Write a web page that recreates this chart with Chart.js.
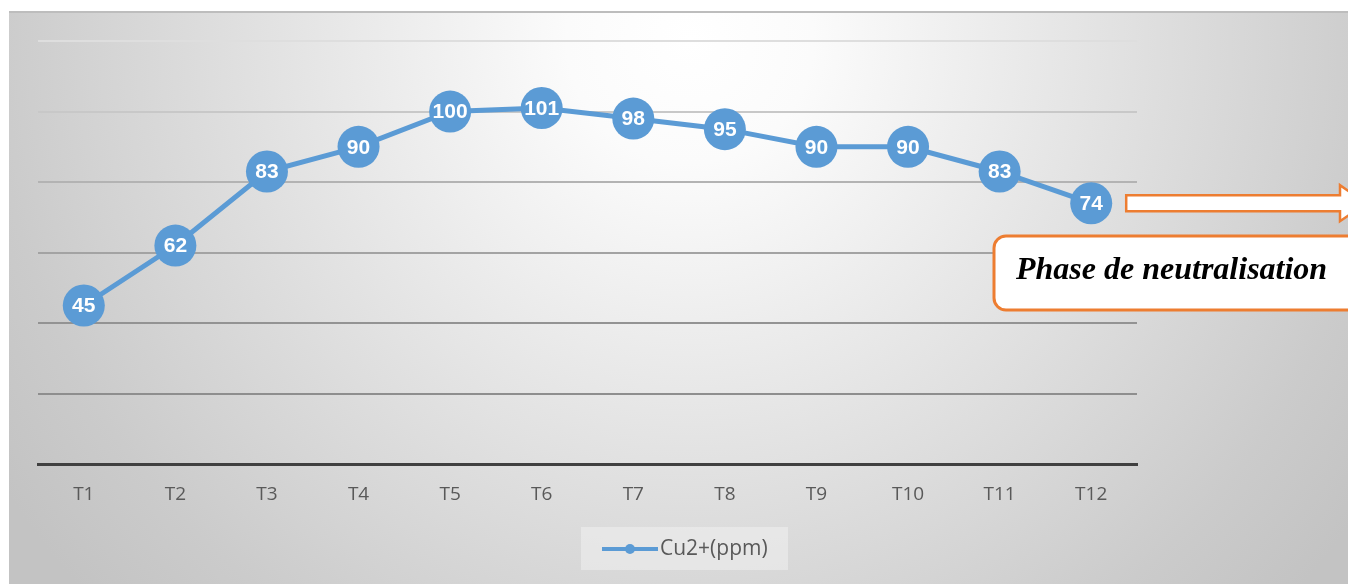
<!DOCTYPE html>
<html>
<head>
<meta charset="utf-8">
<script src="https://cdn.jsdelivr.net/npm/chart.js@4.4.1/dist/chart.umd.min.js"></script>
<style>
  html, body { margin: 0; padding: 0; background: #ffffff; }
  #wrap { width: 1348px; height: 584px; position: relative; }
</style>
</head>
<body>
<div id="wrap"><canvas id="c" width="1348" height="584"></canvas></div>
<script>
// Copper concentration over the sampling times
const categories = ['T1', 'T2', 'T3', 'T4', 'T5', 'T6', 'T7', 'T8', 'T9', 'T10', 'T11', 'T12'];
const cuValues = [45, 62, 83, 90, 100, 101, 98, 95, 90, 90, 83, 74];
const seriesName = 'Cu2+(ppm)';
const yMin = 0, yMax = 120, yStep = 20;
const phaseText = 'Phase de neutralisation';

const BLUE = '#5b9bd5';
const ORANGE = '#ed7d31';

// Panel background with a soft radial shading and a thin top border
const panelBackground = {
  id: 'panelBackground',
  beforeDraw(chart) {
    const ctx = chart.ctx;
    const W = chart.width, H = chart.height;
    ctx.save();
    ctx.fillStyle = '#ffffff';
    ctx.fillRect(0, 0, W, H);
    const g = ctx.createRadialGradient(690, 40, 0, 690, 40, 820);
    g.addColorStop(0, '#ffffff');
    g.addColorStop(0.15, '#fbfbfb');
    g.addColorStop(0.6, '#dcdcdc');
    g.addColorStop(0.85, '#cbcbcb');
    g.addColorStop(1, '#c3c3c3');
    ctx.fillStyle = g;
    ctx.fillRect(9, 11, W - 9, H - 11);
    ctx.fillStyle = '#bdbdbd';
    ctx.fillRect(9, 11, W - 9, 2);
    ctx.restore();
  }
};

// White value labels inside each point
const valueLabels = {
  id: 'valueLabels',
  afterDatasetsDraw(chart) {
    const ctx = chart.ctx;
    const meta = chart.getDatasetMeta(0);
    const data = chart.data.datasets[0].data;
    ctx.save();
    ctx.fillStyle = '#ffffff';
    ctx.font = 'bold 21px "Liberation Sans", Arial, sans-serif';
    ctx.textAlign = 'center';
    ctx.textBaseline = 'middle';
    meta.data.forEach((pt, i) => {
      ctx.fillText(String(data[i]), pt.x, pt.y + 1, 38);
    });
    ctx.restore();
  }
};

// Arrow leaving the last point and the boxed phase caption
const phaseCallout = {
  id: 'phaseCallout',
  afterDraw(chart) {
    const ctx = chart.ctx;
    const meta = chart.getDatasetMeta(0);
    const last = meta.data[meta.data.length - 1];
    const W = chart.width;
    ctx.save();
    // arrow
    const ax = last.x + 35, ay = last.y;
    const shaftH = 16, headH = 36, headStart = W - 8;
    ctx.beginPath();
    ctx.moveTo(ax, ay - shaftH / 2);
    ctx.lineTo(headStart, ay - shaftH / 2);
    ctx.lineTo(headStart, ay - headH / 2);
    ctx.lineTo(headStart + 26, ay);
    ctx.lineTo(headStart, ay + headH / 2);
    ctx.lineTo(headStart, ay + shaftH / 2);
    ctx.lineTo(ax, ay + shaftH / 2);
    ctx.closePath();
    ctx.fillStyle = '#ffffff';
    ctx.fill();
    ctx.lineWidth = 2.5;
    ctx.strokeStyle = ORANGE;
    ctx.stroke();
    // caption box
    const bx = 994, by = 236, bw = 380, bh = 74, r = 12;
    ctx.beginPath();
    ctx.roundRect(bx, by, bw, bh, r);
    ctx.fillStyle = '#ffffff';
    ctx.fill();
    ctx.lineWidth = 3;
    ctx.strokeStyle = ORANGE;
    ctx.stroke();
    ctx.fillStyle = '#000000';
    ctx.font = 'italic bold 32px "Liberation Serif", "Times New Roman", serif';
    ctx.textAlign = 'left';
    ctx.textBaseline = 'alphabetic';
    ctx.fillText(phaseText, 1016, 279, 316);
    ctx.restore();
  }
};

// Legend box below the category labels
const bottomLegend = {
  id: 'bottomLegend',
  afterDraw(chart) {
    const ctx = chart.ctx;
    const label = chart.data.datasets[0].label;
    ctx.save();
    ctx.fillStyle = 'rgba(240,240,240,0.55)';
    ctx.fillRect(581, 527, 207, 43);
    const cy = 549;
    ctx.strokeStyle = BLUE;
    ctx.lineWidth = 4;
    ctx.beginPath();
    ctx.moveTo(602, cy);
    ctx.lineTo(658, cy);
    ctx.stroke();
    ctx.fillStyle = BLUE;
    ctx.beginPath();
    ctx.arc(630, cy, 5, 0, Math.PI * 2);
    ctx.fill();
    ctx.fillStyle = '#595959';
    ctx.font = '21px "Open Sans", "Liberation Sans", sans-serif';
    ctx.textAlign = 'left';
    ctx.textBaseline = 'middle';
    ctx.fillText(label, 660, cy, 112);
    ctx.restore();
  }
};

function gridColor(ctx) {
  const v = ctx.tick ? ctx.tick.value : 0;
  const shades = { 0: '#404040', 20: '#8e8e8e', 40: '#939393', 60: '#a3a3a3', 80: '#b3b3b3', 100: '#c8c8c8', 120: '#dedede' };
  return shades[v] || '#b0b0b0';
}

new Chart(document.getElementById('c'), {
  type: 'line',
  data: {
    labels: categories,
    datasets: [{
      label: seriesName,
      data: cuValues,
      borderColor: BLUE,
      backgroundColor: BLUE,
      borderWidth: 5,
      pointRadius: 21,
      pointHoverRadius: 21,
      pointBackgroundColor: BLUE,
      pointBorderColor: BLUE,
      pointBorderWidth: 0,
      tension: 0,
      clip: false
    }]
  },
  options: {
    responsive: false,
    animation: false,
    events: [],
    layout: { padding: { left: 38, right: 211, top: 41, bottom: 59 } },
    plugins: {
      legend: { display: false },
      tooltip: { enabled: false }
    },
    scales: {
      x: {
        offset: true,
        grid: { display: false, drawTicks: false },
        border: { display: true, color: '#404040', width: 3 },
        ticks: {
          padding: 19,
          color: '#595959',
          font: { family: '"Open Sans", "Liberation Sans", sans-serif', size: 19 }
        }
      },
      y: {
        min: yMin,
        max: yMax,
        ticks: { display: false, stepSize: yStep },
        border: { display: false },
        grid: {
          drawTicks: false,
          color: gridColor,
          lineWidth: (ctx) => (ctx.tick && ctx.tick.value === 0 ? 3 : 2)
        }
      }
    }
  },
  plugins: [panelBackground, valueLabels, phaseCallout, bottomLegend]
});
</script>
</body>
</html>
